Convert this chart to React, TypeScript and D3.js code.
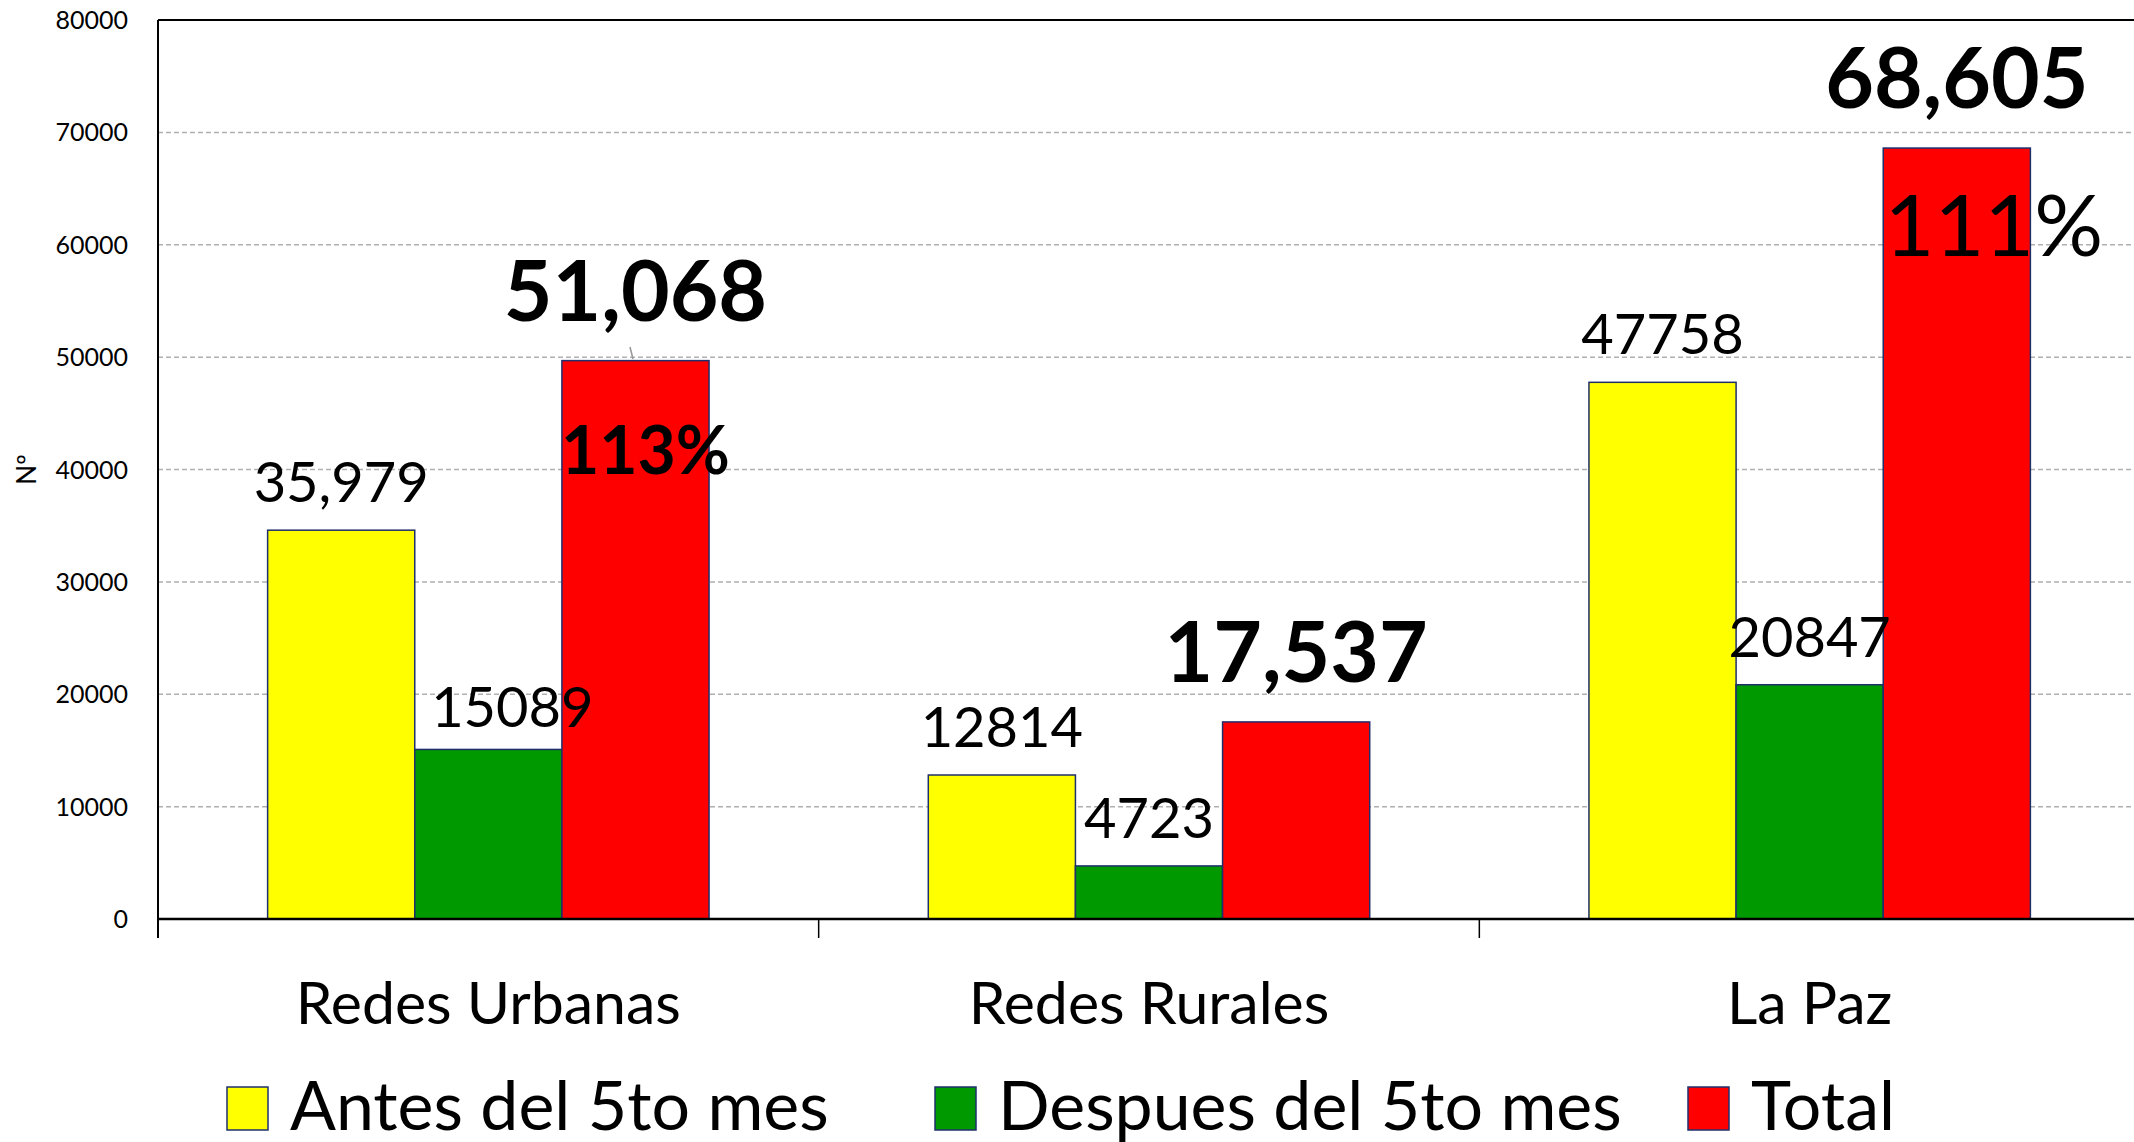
import React from 'react';
import * as d3 from 'd3';

const categories = ['Redes Urbanas', 'Redes Rurales', 'La Paz'];
const series = ['Antes del 5to mes', 'Despues del 5to mes', 'Total'];
const antes = [34600, 12814, 47758];
const despues = [15089, 4723, 20847];
const total = [49689, 17537, 68605];
const antesLabels = ['35,979', '12814', '47758'];
const despuesLabels = ['15089', '4723', '20847'];
const totalLabels = ['51,068', '17,537', '68,605'];
const pctLabels = ['113%', '', '111%'];
const yTicks = [0, 10000, 20000, 30000, 40000, 50000, 60000, 70000, 80000];

const colors = ['#FFFF00', '#009900', '#FF0000'];
const FONT = 'Lato, "Open Sans", sans-serif';

const W = 2134;
const H = 1142;
const left = 158;
const right = 2140;
const top = 20;
const bottom = 919;

const App = () => {
  const x = d3.scaleBand().domain(categories).range([left, right]);
  const xs = d3.scaleBand().domain(series).range([0, x.bandwidth()]).paddingOuter(0.745);
  const y = d3.scaleLinear().domain([0, 80000]).range([bottom, top]);
  const values = [antes, despues, total];
  const labels = [antesLabels, despuesLabels, totalLabels];

  // hand-placed nudges seen in the original
  const despuesDx = [24, 0, 0];
  const pctDx = [10, 0, 37];
  const pctY = [474, 0, 256];

  return (
    <svg width={W} height={H} style={{ position: 'absolute', left: 0, top: 0, background: '#fff' }}>
      {/* grid */}
      {yTicks.slice(1, -1).map((t) => (
        <line key={t} x1={left} x2={right} y1={y(t)} y2={y(t)} stroke="#b0b0b0" strokeWidth={1.5} strokeDasharray="5,3" />
      ))}
      <line x1={left} x2={right} y1={top} y2={top} stroke="#000" strokeWidth={2} />

      {/* y axis */}
      {yTicks.map((t) => (
        <text key={t} x={128} y={y(t)} dy="0.36em" textAnchor="end" fontFamily={FONT} fontSize={25}>
          {t}
        </text>
      ))}
      <text transform={`translate(36, ${(top + bottom) / 2}) rotate(-90)`} textAnchor="middle" fontFamily={FONT} fontSize={26}>
        Nº
      </text>

      {/* bars */}
      {series.map((s, si) =>
        categories.map((c, ci) => (
          <rect
            key={s + c}
            x={x(c)! + xs(s)!}
            y={y(values[si][ci])}
            width={xs.bandwidth()}
            height={bottom - y(values[si][ci])}
            fill={colors[si]}
            stroke="#1F2F6B"
            strokeWidth={1.5}
          />
        ))
      )}

      {/* axes lines */}
      <line x1={left} x2={left} y1={top} y2={938} stroke="#000" strokeWidth={2} />
      <line x1={left} x2={right} y1={bottom} y2={bottom} stroke="#000" strokeWidth={2.5} />
      {categories.map((c) => (
        <line key={c} x1={x(c)} x2={x(c)} y1={bottom} y2={938} stroke="#000" strokeWidth={1.5} />
      ))}
      {categories.map((c) => (
        <text key={c} x={x(c)! + x.bandwidth() / 2} y={1024} textAnchor="middle" fontFamily={FONT} fontSize={59}>
          {c}
        </text>
      ))}

      {/* value labels */}
      {categories.map((c, ci) => {
        const cx = (si: number) => x(c)! + xs(series[si])! + xs.bandwidth() / 2;
        return (
          <g key={c} fontFamily={FONT}>
            <text x={cx(0)} y={y(antes[ci]) - 28} textAnchor="middle" fontSize={56}>
              {labels[0][ci]}
            </text>
            <text x={cx(1) + despuesDx[ci]} y={y(despues[ci]) - (ci === 0 ? 22 : 28)} textAnchor="middle" fontSize={56}>
              {labels[1][ci]}
            </text>
            <text x={cx(2)} y={y(total[ci]) - 40} textAnchor="middle" fontSize={84} fontWeight="bold">
              {labels[2][ci]}
            </text>
            {pctLabels[ci] && (
              <text
                x={cx(2) + pctDx[ci]}
                y={pctY[ci]}
                textAnchor="middle"
                fontSize={ci === 0 ? 66 : 86}
                fontWeight={ci === 0 ? 'bold' : 'normal'}
              >
                {pctLabels[ci]}
              </text>
            )}
          </g>
        );
      })}
      <line x1={630} y1={347} x2={633} y2={359} stroke="#999" strokeWidth={1.5} />

      {/* legend */}
      {[227, 935, 1688].map((lx, i) => (
        <g key={series[i]}>
          <rect x={lx} y={1087} width={41} height={43} fill={colors[i]} stroke="#1F2F6B" strokeWidth={1.5} />
          <text x={lx + 63} y={1130} fontFamily={FONT} fontSize={68}>
            {series[i]}
          </text>
        </g>
      ))}
    </svg>
  );
};

export default App;
